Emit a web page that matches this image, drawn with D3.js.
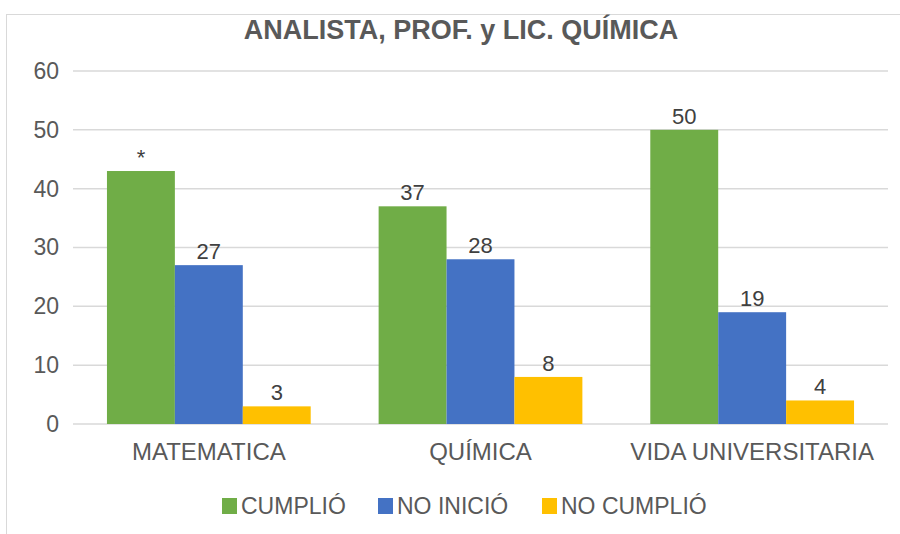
<!DOCTYPE html>
<html>
<head>
<meta charset="utf-8">
<script src="https://cdn.jsdelivr.net/npm/d3@7"></script>
<style>
  body { margin: 0; background: #fff; }
  svg { display: block; font-family: "Liberation Sans", Arial, sans-serif; }
</style>
</head>
<body>
<svg width="900" height="534"></svg>
<script>
var categories = ["MATEMATICA", "QUÍMICA", "VIDA UNIVERSITARIA"];
var seriesNames = ["CUMPLIÓ", "NO INICIÓ", "NO CUMPLIÓ"];
var cumplio = [43, 37, 50];
var noInicio = [27, 28, 19];
var noCumplio = [3, 8, 4];
// label shown above each bar (first one appears as "*" in the original)
var cumplioLabels = ["*", "37", "50"];
var yTicks = [0, 10, 20, 30, 40, 50, 60];
var colors = ["#70ad47", "#4472c4", "#ffc000"];

var svg = d3.select("svg"),
    margin = {top: 71, right: 12, bottom: 110, left: 73},
    width = 900 - margin.left - margin.right,
    height = 534 - margin.top - margin.bottom;

// outer frame
svg.append("rect")
    .attr("x", 6.5).attr("y", 14.5)
    .attr("width", 900).attr("height", 540)
    .attr("fill", "none")
    .attr("stroke", "#d9d9d9");

svg.append("text")
    .attr("x", 461).attr("y", 39)
    .attr("text-anchor", "middle")
    .attr("font-size", 27)
    .attr("font-weight", "bold")
    .attr("fill", "#595959")
    .text("ANALISTA, PROF. y LIC. QUÍMICA");

var g = svg.append("g").attr("transform", "translate(" + margin.left + "," + margin.top + ")");

var x0 = d3.scaleBand().domain(categories).range([0, width]);
var x1 = d3.scaleBand().domain(seriesNames)
    .range([x0.bandwidth() / 8, x0.bandwidth() * 7 / 8]);
var y = d3.scaleLinear().domain([0, 60]).range([height, 0]);

// gridlines
g.selectAll(".grid")
    .data(yTicks)
    .enter().append("line")
    .attr("x1", 0).attr("x2", width)
    .attr("y1", function(d) { return y(d); })
    .attr("y2", function(d) { return y(d); })
    .attr("stroke", "#d9d9d9")
    .attr("stroke-width", 1.5);

var yAxis = g.append("g")
    .call(d3.axisLeft(y).tickValues(yTicks).tickSize(0).tickPadding(14));
yAxis.select(".domain").remove();
yAxis.selectAll("text")
    .attr("font-size", 23)
    .attr("fill", "#595959")
    .attr("font-family", "Liberation Sans, Arial, sans-serif");

var xAxis = g.append("g")
    .attr("transform", "translate(0," + height + ")")
    .call(d3.axisBottom(x0).tickSize(0).tickPadding(0));
xAxis.select(".domain").remove();
xAxis.selectAll("text")
    .attr("dy", null)
    .attr("y", 36)
    .attr("font-size", 24)
    .attr("fill", "#595959")
    .attr("font-family", "Liberation Sans, Arial, sans-serif");

var rows = categories.map(function(c, i) {
    return {
        cat: c,
        values: [
            {s: seriesNames[0], v: cumplio[i], label: cumplioLabels[i], c: colors[0]},
            {s: seriesNames[1], v: noInicio[i], label: String(noInicio[i]), c: colors[1]},
            {s: seriesNames[2], v: noCumplio[i], label: String(noCumplio[i]), c: colors[2]}
        ]
    };
});

var groups = g.selectAll(".group")
    .data(rows)
    .enter().append("g")
    .attr("transform", function(d) { return "translate(" + x0(d.cat) + ",0)"; });

groups.selectAll("rect")
    .data(function(d) { return d.values; })
    .enter().append("rect")
    .attr("x", function(d) { return x1(d.s); })
    .attr("y", function(d) { return y(d.v); })
    .attr("width", x1.bandwidth())
    .attr("height", function(d) { return height - y(d.v); })
    .attr("fill", function(d) { return d.c; });

groups.selectAll(".lbl")
    .data(function(d) { return d.values; })
    .enter().append("text")
    .attr("x", function(d) { return x1(d.s) + x1.bandwidth() / 2; })
    .attr("y", function(d) { return y(d.v) - 6; })
    .attr("text-anchor", "middle")
    .attr("font-size", 22)
    .attr("fill", "#404040")
    .text(function(d) { return d.label; });

// legend
var legendX = [222, 378, 542];
var legend = svg.selectAll(".legend")
    .data(seriesNames)
    .enter().append("g")
    .attr("transform", function(d, i) { return "translate(" + legendX[i] + ",498)"; });

legend.append("rect")
    .attr("width", 15).attr("height", 16)
    .attr("fill", function(d, i) { return colors[i]; });

legend.append("text")
    .attr("x", 19).attr("y", 16)
    .attr("font-size", 23)
    .attr("fill", "#595959")
    .text(function(d) { return d; });
</script>
</body>
</html>
